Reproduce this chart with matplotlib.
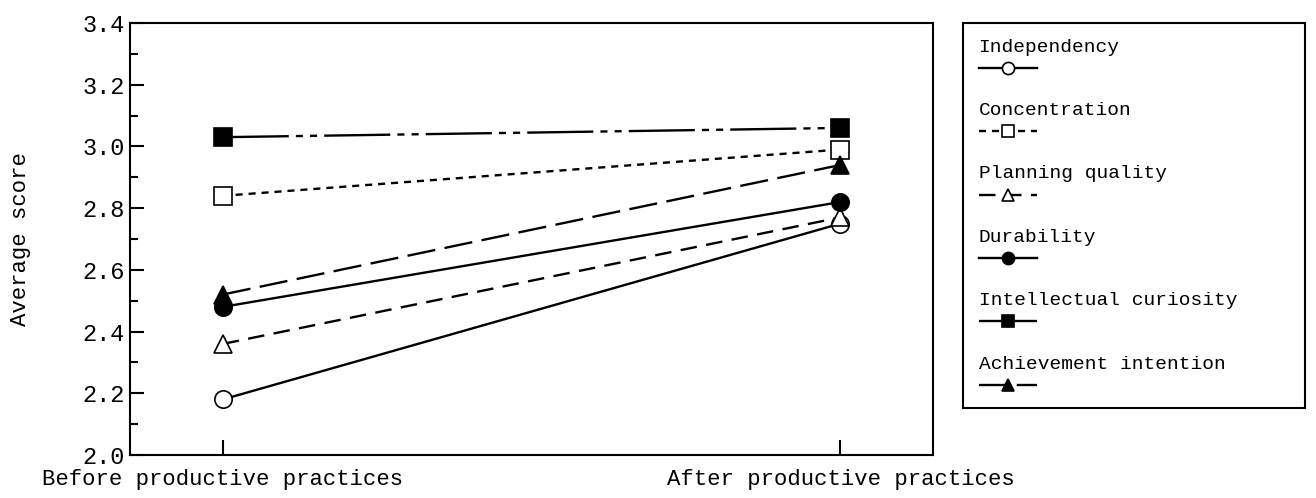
import matplotlib
matplotlib.use('Agg')
import matplotlib.pyplot as plt
import numpy as np
from matplotlib.lines import Line2D
from matplotlib.legend_handler import HandlerLine2D
from matplotlib.ticker import MultipleLocator, FormatStrFormatter

stages = ['Before productive practices', 'After productive practices']
labels = ['Independency', 'Concentration', 'Planning quality', 'Durability',
          'Intellectual curiosity', 'Achievement intention']
independency = [2.18, 2.75]
concentration = [2.84, 2.99]
planning_quality = [2.36, 2.77]
durability = [2.48, 2.82]
intellectual_curiosity = [3.03, 3.06]
achievement_intention = [2.52, 2.94]

values = [independency, concentration, planning_quality, durability,
          intellectual_curiosity, achievement_intention]
linestyles = ['-', (0, (3, 2.5)), (0, (7, 4)), '-', (0, (28, 3, 3, 3, 3, 3)), (0, (12, 4))]
markers = ['o', 's', '^', 'o', 's', '^']
fills = ['white', 'white', 'white', 'black', 'black', 'black']


# legend sample sits under its label instead of beside it
class HandleBelow(HandlerLine2D):
    def create_artists(self, legend, orig_handle, xdescent, ydescent, width,
                       height, fontsize, trans):
        arts = super().create_artists(legend, orig_handle, xdescent, ydescent,
                                      width, height, fontsize, trans)
        for a in arts:
            a.set_ydata(np.asarray(a.get_ydata(), dtype=float) - 0.57 * fontsize)
        return arts


plt.rcParams['font.family'] = ['Liberation Mono', 'DejaVu Sans Mono']

fig = plt.figure(figsize=(13.16, 4.98), dpi=100)
ax = fig.add_axes([0.0988, 0.0863, 0.6102, 0.8675])

x = list(range(len(stages)))
for lab, vals, ls, m, fc in zip(labels, values, linestyles, markers, fills):
    ax.plot(x, vals, color='black', lw=1.7, linestyle=ls, marker=m, markersize=12.5,
            markerfacecolor=fc, markeredgecolor='black', markeredgewidth=1.2,
            label=lab + '\n ')

ax.set_xlim(-0.15, 1.15)
ax.set_ylim(2.0, 3.4)
ax.set_xticks(x)
ax.set_xticklabels(stages, fontsize=16)
ax.yaxis.set_major_locator(MultipleLocator(0.2))
ax.yaxis.set_minor_locator(MultipleLocator(0.1))
ax.yaxis.set_major_formatter(FormatStrFormatter('%.1f'))
ax.tick_params(axis='y', which='major', direction='in', length=10, width=1.5,
               labelsize=17, pad=4)
ax.tick_params(axis='y', which='minor', direction='in', length=6, width=1.5)
ax.tick_params(axis='x', direction='in', length=11, width=1.5, pad=10)
for sp in ax.spines.values():
    sp.set_linewidth(1.5)

ax.set_ylabel('Average score', fontsize=16)
ax.yaxis.set_label_coords(-0.123, 0.5)

hl = 3.0
leg = ax.legend(loc='upper left', bbox_to_anchor=(0.7318, 0.1827, 0.2598, 0.7711),
                bbox_transform=fig.transFigure, mode='expand', borderaxespad=0,
                fontsize=14, handlelength=hl, handletextpad=-hl, markerscale=0.7,
                labelspacing=1.38, borderpad=0.8, fancybox=False, framealpha=1,
                edgecolor='black', handler_map={Line2D: HandleBelow()})
leg.get_frame().set_linewidth(1.5)

fig.savefig('out.png', dpi=100)
plt.close(fig)
